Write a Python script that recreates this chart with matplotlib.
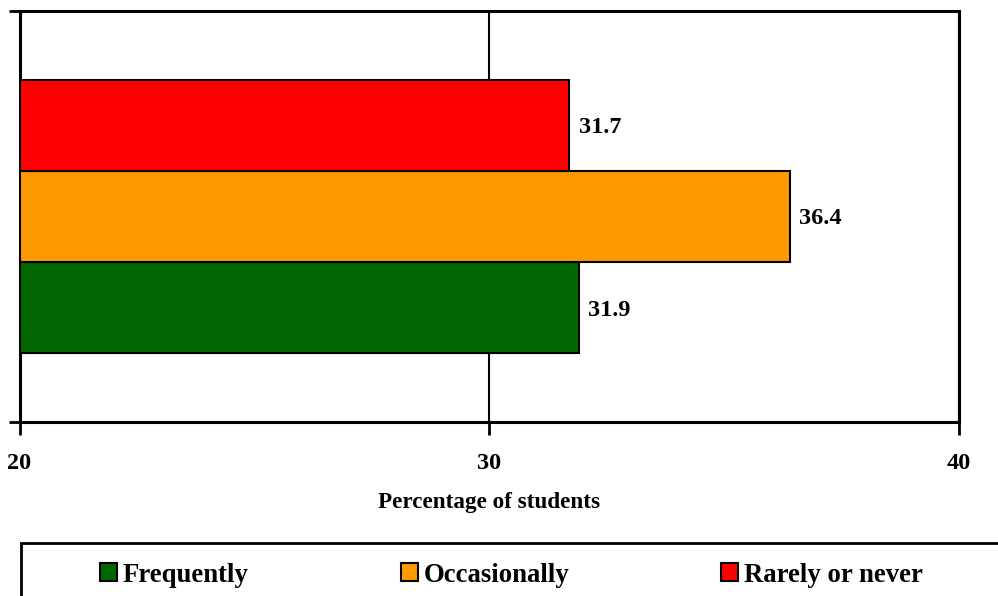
import matplotlib
matplotlib.use("Agg")
import matplotlib.pyplot as plt
from matplotlib.patches import Rectangle

categories = ["Frequently", "Occasionally", "Rarely or never"]
values = [31.9, 36.4, 31.7]
colors = ["#006600", "#FF9900", "#FF0000"]
xticks = [20, 30, 40]

plt.rcParams["font.family"] = ["Liberation Serif", "DejaVu Serif"]
plt.rcParams["font.weight"] = "bold"

W, H = 998, 596
fig = plt.figure(figsize=(W / 100, H / 100), dpi=100)
ax = fig.add_axes([19.5 / W, 1 - 422 / H, (959 - 19.5) / W, (422 - 11) / H])

bar_h = 91.3 / 411
centers = [0.5 - bar_h, 0.5, 0.5 + bar_h]
for c, v, col in zip(centers, values, colors):
    ax.barh(c, v - 20, left=20, height=bar_h, color=col, edgecolor="black",
            linewidth=1.5, zorder=3)
    ax.text(v + 0.2, c - 0.006, f"{v}", va="center", ha="left", fontsize=17.5,
            fontweight="bold", zorder=4)

ax.set_xlim(20, 40)
ax.set_ylim(0, 1)
ax.set_xticks(xticks)
ax.set_xticklabels([str(t) for t in xticks], fontsize=17.5, fontweight="bold")
ax.set_yticks([0, 1])
ax.set_yticklabels([])
ax.tick_params(axis="x", length=9, width=2, pad=13)
ax.tick_params(axis="y", length=8, width=2)
ax.xaxis.grid(True, color="black", linewidth=1.5, zorder=0)
for s in ax.spines.values():
    s.set_linewidth(2.2)
ax.set_xlabel("Percentage of students", fontsize=16.7, fontweight="bold", labelpad=13)

# legend frame running past the figure edge
fig.add_artist(Rectangle((21 / W, -0.05), 1.1, (596 - 543) / H + 0.05,
                         transform=fig.transFigure, fill=False,
                         edgecolor="black", linewidth=2, clip_on=False))

handles = [Rectangle((0, 0), 1, 1, facecolor=c, edgecolor="black", linewidth=1.5)
           for c in colors]
fig.legend(handles, categories, loc="center left",
           bbox_to_anchor=(100 / W, 1 - 575 / H), ncol=3, frameon=False,
           prop={"size": 19.3, "weight": "bold"}, handlelength=0.63,
           handleheight=0.63, handletextpad=0.22, columnspacing=5.67,
           borderaxespad=0, borderpad=0)

fig.savefig("out.png", dpi=100)
